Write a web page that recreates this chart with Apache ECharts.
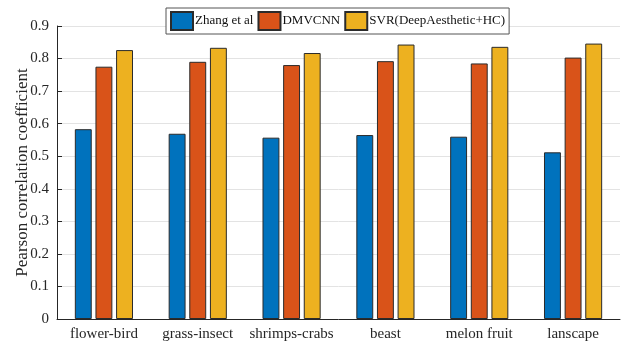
<!DOCTYPE html>
<html><head><meta charset="utf-8">
<script src="https://cdn.jsdelivr.net/npm/echarts@6/dist/echarts.min.js"></script>
<style>html,body{margin:0;padding:0;background:#fff}#c{width:624px;height:343px}</style>
</head><body><div id="c"></div>
<script>
const categories = ['flower-bird','grass-insect','shrimps-crabs','beast','melon fruit','lanscape'];
const seriesNames = ['Zhang et al','DMVCNN','SVR(DeepAesthetic+HC)'];
const zhang = [0.583, 0.569, 0.557, 0.565, 0.560, 0.512];
const dmvcnn = [0.775, 0.790, 0.780, 0.792, 0.785, 0.803];
const svr = [0.826, 0.833, 0.817, 0.843, 0.836, 0.846];
const yTicks = [0,0.1,0.2,0.3,0.4,0.5,0.6,0.7,0.8,0.9];
const colors = ['#0072BD','#D95319','#EDB120'];
const font = 'Liberation Serif';
const chart = echarts.init(document.getElementById('c'));
const dataSets = [zhang, dmvcnn, svr];
chart.setOption({
  animation:false,
  textStyle:{fontFamily:font},
  grid:{left:57,right:4,top:26,bottom:24,containLabel:false,outerBoundsMode:'none'},
  legend:{
    left:166, top:8, padding:[3,4,3,4], itemGap:4,
    itemWidth:22, itemHeight:18, icon:'rect',
    borderColor:'#555', borderWidth:1, backgroundColor:'#fff',
    textStyle:{fontFamily:font,fontSize:13,color:'#111',padding:[0,0,0,-3]},
    data:seriesNames
  },
  xAxis:{
    type:'category', data:categories,
    axisLine:{lineStyle:{color:'#262626',width:1}},
    axisTick:{show:true,alignWithLabel:true,inside:true,length:5,lineStyle:{color:'#262626'}},
    axisLabel:{interval:0,fontFamily:font,fontSize:15,color:'#262626',margin:8}
  },
  yAxis:{
    type:'value', min:0, max:0.9, interval:0.1,
    name:'Pearson correlation coefficient', nameLocation:'middle', nameGap:26, nameMoveOverlap:false,
    nameTextStyle:{fontFamily:font,fontSize:17,color:'#262626'},
    axisLine:{show:true,lineStyle:{color:'#262626',width:1}},
    axisTick:{show:true,inside:true,length:5,lineStyle:{color:'#262626'}},
    axisLabel:{fontFamily:font,fontSize:15,color:'#262626',margin:8,
      formatter:v=>{const t=yTicks.find(x=>Math.abs(x-v)<1e-9);return t===undefined?'':String(t);}},
    splitLine:{show:true,lineStyle:{color:'#e3e3e3',width:1}}
  },
  series: seriesNames.map((n,i)=>({
    name:n, type:'bar', data:dataSets[i],
    barGap:'22%', barCategoryGap:'38%',
    itemStyle:{color:colors[i],borderColor:'#2b2b2b',borderWidth:1}
  }))
});
</script></body></html>
